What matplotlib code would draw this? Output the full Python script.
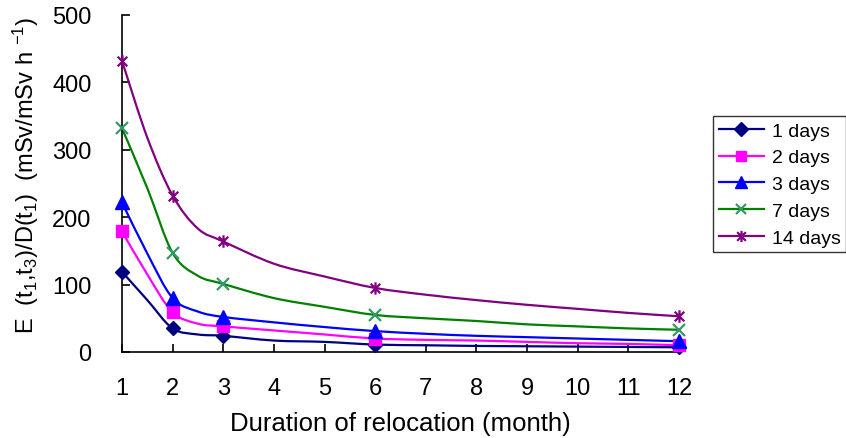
import matplotlib
matplotlib.use("Agg")
import matplotlib.pyplot as plt
from matplotlib.path import Path
from matplotlib.patches import PathPatch

plt.rcParams['font.family'] = ['Liberation Sans', 'DejaVu Sans']
plt.rcParams['mathtext.fontset'] = 'custom'
plt.rcParams['mathtext.rm'] = 'Liberation Sans'
plt.rcParams['mathtext.it'] = 'Liberation Sans'

# line data (months)
months = [1, 1.5, 2, 2.5, 3, 4, 5, 6, 7, 8, 9, 10, 11, 12]
d1 = [119, 77, 35, 26, 24, 17, 15, 11, 10, 9, 8.5, 8, 7.5, 7]
d2 = [179, 115, 59, 42, 38, 32, 26, 20, 18, 17, 15, 13, 12, 10]
d3 = [222, 146, 80, 60, 52, 44, 37, 31, 27, 24, 22, 20, 18, 16]
d7 = [332, 243, 147, 113, 101, 80, 67, 55, 50, 46, 41, 38, 35, 33]
d14 = [432, 318, 232, 183, 164, 131, 112, 95, 85, 77, 70, 64, 58, 53]

# marker months
mark_months = [1, 2, 3, 6, 12]
labels = ['1 days', '2 days', '3 days', '7 days', '14 days']
xticks = list(range(1, 13))
yticks = [0, 100, 200, 300, 400, 500]

star = Path([(-1, -1), (1, 1), (-1, 1), (1, -1), (0, -1.3), (0, 1.3)],
            [Path.MOVETO, Path.LINETO, Path.MOVETO, Path.LINETO, Path.MOVETO, Path.LINETO])

styles = [
    dict(color='#000080', marker='D', mfc='#000080', mec='#000080', ms=7.5, mew=1),
    dict(color='#FF00FF', marker='s', mfc='#FF00FF', mec='#FF00FF', ms=8.5, mew=1),
    dict(color='#0000FF', marker='^', mfc='#0000FF', mec='#0000FF', ms=9.5, mew=1),
    dict(color='#008000', marker='x', mfc='none', mec='#339966', ms=8.5, mew=1.6),
    dict(color='#800080', marker=star, mfc='none', mec='#800080', ms=9, mew=1.6),
]
series = [d1, d2, d3, d7, d14]


def smooth_path(xs, ys):
    """Smoothed line (Excel style) as Bezier path through the given points."""
    pts = list(zip(xs, ys))
    n = len(pts)
    verts = [pts[0]]
    codes = [Path.MOVETO]
    for i in range(n - 1):
        p0 = pts[i - 1] if i > 0 else pts[i]
        p1 = pts[i]
        p2 = pts[i + 1]
        p3 = pts[i + 2] if i + 2 < n else pts[i + 1]
        c1 = (p1[0] + (p2[0] - p0[0]) / 6, p1[1] + (p2[1] - p0[1]) / 6)
        c2 = (p2[0] - (p3[0] - p1[0]) / 6, p2[1] - (p3[1] - p1[1]) / 6)
        verts += [c1, c2, p2]
        codes += [Path.CURVE4] * 3
    return Path(verts, codes)


fig = plt.figure(figsize=(8.46, 4.39), dpi=100)
ax = fig.add_axes([0.1442, 0.1959, 0.6584, 0.7677])

handles = []
for ys, st, lab in zip(series, styles, labels):
    patch = PathPatch(smooth_path(months, ys), facecolor='none', edgecolor=st['color'],
                      lw=1.6, zorder=2, transform=ax.transData)
    ax.add_patch(patch)
    mvals = [ys[months.index(m)] for m in mark_months]
    ax.plot(mark_months, mvals, ls='none', marker=st['marker'], mfc=st['mfc'],
            mec=st['mec'], ms=st['ms'], mew=st['mew'], zorder=3, clip_on=False)
    h, = ax.plot([], [], color=st['color'], lw=1.6, marker=st['marker'], mfc=st['mfc'],
                 mec=st['mec'], ms=st['ms'] * 0.9, mew=st['mew'])
    handles.append(h)

ax.set_xlim(1, 12)
ax.set_ylim(0, 500)
ax.set_xticks(xticks)
ax.set_yticks(yticks)
ax.spines['top'].set_visible(False)
ax.spines['right'].set_visible(False)
for s in ['left', 'bottom']:
    ax.spines[s].set_linewidth(1.2)
ax.tick_params(axis='both', direction='in', length=6, width=1.2, labelsize=17)
ax.tick_params(axis='y', pad=22)
ax.tick_params(axis='x', pad=18)

ax.set_xlabel('Duration of relocation (month)', fontsize=18.5, labelpad=9)
ax.set_ylabel(r'E  (t$_1$,t$_3$)/D(t$_1$)  (mSv/mSv h $^{-1}$)', fontsize=17, labelpad=12)
ax.yaxis.set_label_coords(-0.145, 0.528)

leg = fig.legend(handles, labels, loc='upper left', bbox_to_anchor=(0.843, 0.733),
                 frameon=True, fancybox=False, fontsize=14, handlelength=2.3,
                 labelspacing=0.47, borderpad=0.3, handletextpad=0.4, borderaxespad=0)
leg.get_frame().set_edgecolor('black')
leg.get_frame().set_linewidth(1.0)

fig.savefig('out.png', dpi=100)
